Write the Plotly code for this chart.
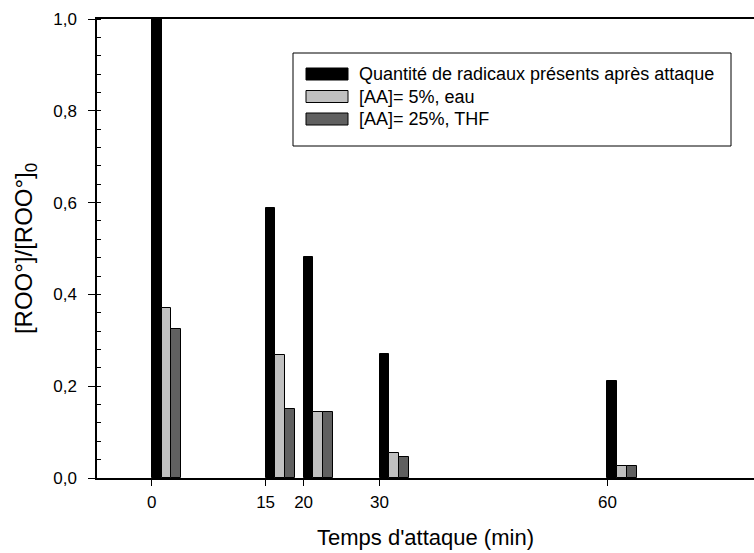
import plotly.graph_objects as go

# ---- data ----
times = [0, 15, 20, 30, 60]
radicaux = [1.0, 0.588, 0.482, 0.27, 0.212]
aa5_eau = [0.371, 0.268, 0.144, 0.055, 0.026]
aa25_thf = [0.324, 0.150, 0.144, 0.046, 0.026]

series_names = ["Quantité de radicaux présents après attaque",
                "[AA]= 5%, eau",
                "[AA]= 25%, THF"]
series_colors = ["#000000", "#c0c0c0", "#606060"]

x_tickvals = [0, 15, 20, 30, 60]
x_ticktext = ["0", "15", "20", "30", "60"]
y_tickvals = [0, 0.2, 0.4, 0.6, 0.8, 1.0]
y_ticktext = ["0,0", "0,2", "0,4", "0,6", "0,8", "1,0"]

x_title = "Temps d'attaque (min)"
y_title = "[ROO°]/[ROO°]<sub>0</sub>"

# ---- figure ----
FONT = "Liberation Sans, Arial, sans-serif"
BAR_W = 1.3

fig = go.Figure()
for i, (name, vals, col) in enumerate(zip(series_names,
                                          [radicaux, aa5_eau, aa25_thf],
                                          series_colors)):
    fig.add_trace(go.Bar(
        x=times, y=vals, name=name,
        width=BAR_W, offset=i * BAR_W,
        marker=dict(color=col, line=dict(color="black", width=1)),
        showlegend=False,
    ))

# manual legend (wide swatches like the reference)
W, H = 754, 553
L, R, T, B = 97, 0, 19, 75
pw, ph = W - L - R, H - T - B


def px(x):
    return (x - L) / pw


def py(y):
    return (H - B - y) / ph


shapes = [dict(type="rect", xref="paper", yref="paper",
               x0=px(293), x1=px(731), y0=py(146), y1=py(53),
               line=dict(color="black", width=1), fillcolor="white", layer="above")]
annotations = []
row_y = [74, 96.5, 119]
for name, col, ry in zip(series_names, series_colors, row_y):
    shapes.append(dict(type="rect", xref="paper", yref="paper",
                       x0=px(306), x1=px(348), y0=py(ry + 6), y1=py(ry - 6),
                       line=dict(color="black", width=1), fillcolor=col, layer="above"))
    annotations.append(dict(xref="paper", yref="paper", x=px(357), y=py(ry),
                            xanchor="left", yanchor="middle", showarrow=False,
                            text=name, font=dict(family=FONT, size=18, color="black")))

fig.update_layout(
    width=W, height=H,
    margin=dict(l=L, r=R, t=T, b=B, pad=0),
    paper_bgcolor="white", plot_bgcolor="white",
    barmode="overlay",
    bargap=0,
    font=dict(family=FONT, size=17, color="black"),
    shapes=shapes, annotations=annotations,
    showlegend=False,
)

fig.update_xaxes(
    range=[-7.2, 79.3],
    tickvals=x_tickvals, ticktext=x_ticktext,
    ticks="outside", ticklen=6, tickwidth=1, tickcolor="black",
    showline=True, linecolor="black", linewidth=1.5, mirror=True,
    showgrid=False, zeroline=False,
    tickfont=dict(family=FONT, size=17),
    ticklabelstandoff=2,
    title=dict(text=x_title, font=dict(family=FONT, size=22), standoff=18),
)
fig.update_yaxes(
    range=[0, 1.0],
    tickvals=y_tickvals, ticktext=y_ticktext,
    ticks="outside", ticklen=7, tickwidth=1, tickcolor="black",
    minor=dict(ticks="inside", dtick=0.04, tick0=0, ticklen=4, tickwidth=1, tickcolor="black"),
    showline=True, linecolor="black", linewidth=1.5, mirror=False,
    showgrid=False, zeroline=False,
    tickfont=dict(family=FONT, size=17),
    ticklabelstandoff=8,
    title=dict(text=y_title, font=dict(family=FONT, size=24), standoff=14),
)

fig.write_html("out.html",
               config={"displayModeBar": False},
               post_script="document.body.style.margin='0';document.body.style.overflow='hidden';")
